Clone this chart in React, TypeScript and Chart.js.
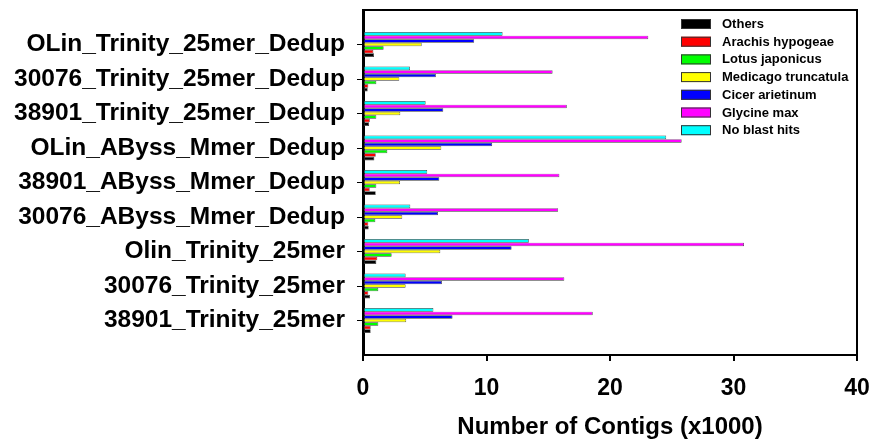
import React, { useEffect, useRef } from "react";
import { Chart, registerables } from "chart.js";

Chart.register(...registerables);

const categories = [
  "OLin_Trinity_25mer_Dedup",
  "30076_Trinity_25mer_Dedup",
  "38901_Trinity_25mer_Dedup",
  "OLin_AByss_Mmer_Dedup",
  "38901_AByss_Mmer_Dedup",
  "30076_AByss_Mmer_Dedup",
  "Olin_Trinity_25mer",
  "30076_Trinity_25mer",
  "38901_Trinity_25mer",
];

const others = [0.89, 0.38, 0.5, 0.92, 1.03, 0.46, 1.08, 0.57, 0.62];
const arachis = [0.84, 0.43, 0.55, 1.03, 0.54, 0.43, 1.16, 0.43, 0.62];
const lotus = [1.67, 1.08, 1.08, 1.97, 1.08, 1.0, 2.32, 1.24, 1.24];
const medicago = [4.75, 2.94, 3.02, 6.34, 3.0, 3.18, 6.26, 3.45, 3.5];
const cicer = [9.0, 5.9, 6.5, 10.46, 6.18, 6.07, 12.03, 6.39, 7.25];
const glycine = [23.1, 15.35, 16.5, 25.8, 15.9, 15.8, 30.85, 16.3, 18.6];
const noBlast = [11.3, 3.8, 5.07, 24.55, 5.2, 3.83, 13.43, 3.45, 5.7];

const xTicks = [0, 10, 20, 30, 40];
const xTitle = "Number of Contigs (x1000)";

const FONT = "'Liberation Sans', Arial, Helvetica, sans-serif";

const pad = (arr: number[]) => [null, ...arr, null];

const legendPlugin = {
  id: "insideLegend",
  afterDraw(chart: any) {
    const ctx = chart.ctx;
    const ds = chart.data.datasets.slice().reverse();
    const x0 = 681;
    const y0 = 24;
    const step = 17.7;
    ctx.save();
    ctx.font = `bold 13px ${FONT}`;
    ctx.textBaseline = "middle";
    ctx.textAlign = "left";
    ds.forEach((d: any, i: number) => {
      const y = y0 + i * step;
      ctx.fillStyle = d.backgroundColor;
      ctx.fillRect(x0, y - 5, 30, 10);
      ctx.strokeStyle = "#333";
      ctx.lineWidth = 1;
      ctx.strokeRect(x0 + 0.5, y - 4.5, 29, 9);
      ctx.fillStyle = "#000";
      ctx.fillText(d.label, x0 + 41, y + 0.5);
    });
    ctx.restore();
  },
};

const framePlugin = {
  id: "frame",
  afterDatasetsDraw(chart: any) {
    const { ctx, chartArea } = chart;
    ctx.save();
    ctx.strokeStyle = "#000";
    ctx.lineWidth = 2;
    ctx.beginPath();
    ctx.moveTo(chartArea.left, chartArea.top);
    ctx.lineTo(chartArea.right, chartArea.top);
    ctx.lineTo(chartArea.right, chartArea.bottom);
    ctx.stroke();
    ctx.restore();
  },
};

export default function App() {
  const ref = useRef<HTMLCanvasElement>(null);
  useEffect(() => {
    document.body.style.margin = "0";
    const labels = ["", ...categories, ""];
    const mk = (label: string, data: number[], color: string) => ({
      label,
      data: pad(data),
      backgroundColor: color,
      borderColor: "#3a3a3a",
      borderWidth: 0.7,
      borderSkipped: false,
      categoryPercentage: 0.72,
      barPercentage: 1.0,
    });
    const chart = new Chart(ref.current as HTMLCanvasElement, {
      type: "bar",
      data: {
        labels,
        datasets: [
          mk("No blast hits", noBlast, "#00FFFF"),
          mk("Glycine max", glycine, "#FF00FF"),
          mk("Cicer arietinum", cicer, "#0000FF"),
          mk("Medicago truncatula", medicago, "#FFFF00"),
          mk("Lotus japonicus", lotus, "#00FF00"),
          mk("Arachis hypogeae", arachis, "#FF0000"),
          mk("Others", others, "#000000"),
        ] as any,
      },
      options: {
        indexAxis: "y",
        animation: false,
        responsive: true,
        maintainAspectRatio: false,
        layout: { padding: { top: 10, right: 16, left: 0, bottom: 0 } },
        plugins: {
          legend: { display: false },
          tooltip: { enabled: false },
        },
        scales: {
          y: {
            type: "category",
            offset: false,
            afterFit: (s: any) => {
              s.width = 363;
              s.paddingTop = 0;
              s.paddingBottom = 0;
            },
            grid: {
              offset: false,
              drawOnChartArea: false,
              drawTicks: true,
              tickLength: 6,
              tickColor: (c: any) =>
                c.index === 0 || c.index === labels.length - 1 ? "rgba(0,0,0,0)" : "#000",
              lineWidth: 1,
            },
            border: { display: true, color: "#000", width: 3 },
            ticks: {
              autoSkip: false,
              color: "#000",
              padding: 12,
              font: { family: FONT, size: 24.5, weight: "bold" },
            },
          },
          x: {
            type: "linear",
            min: 0,
            max: 40,
            afterBuildTicks: (s: any) => {
              s.ticks = xTicks.map((v) => ({ value: v }));
            },
            afterFit: (s: any) => {
              s.height = 444 - 355;
              s.paddingLeft = 0;
              s.paddingRight = 0;
            },
            grid: {
              drawOnChartArea: false,
              drawTicks: true,
              tickLength: 6,
              tickColor: "#000",
              lineWidth: 2,
            },
            border: { display: true, color: "#000", width: 2 },
            ticks: {
              color: "#000",
              padding: 14,
              font: { family: FONT, size: 23, weight: "bold" },
            },
            title: {
              display: true,
              text: xTitle,
              color: "#000",
              padding: { top: 4, bottom: 2 },
              font: { family: FONT, size: 24, weight: "bold" },
            },
          },
        },
      },
      plugins: [framePlugin, legendPlugin],
    });
    return () => chart.destroy();
  }, []);
  return (
    <div style={{ width: 873, height: 444, position: "relative" }}>
      <canvas ref={ref} />
    </div>
  );
}
